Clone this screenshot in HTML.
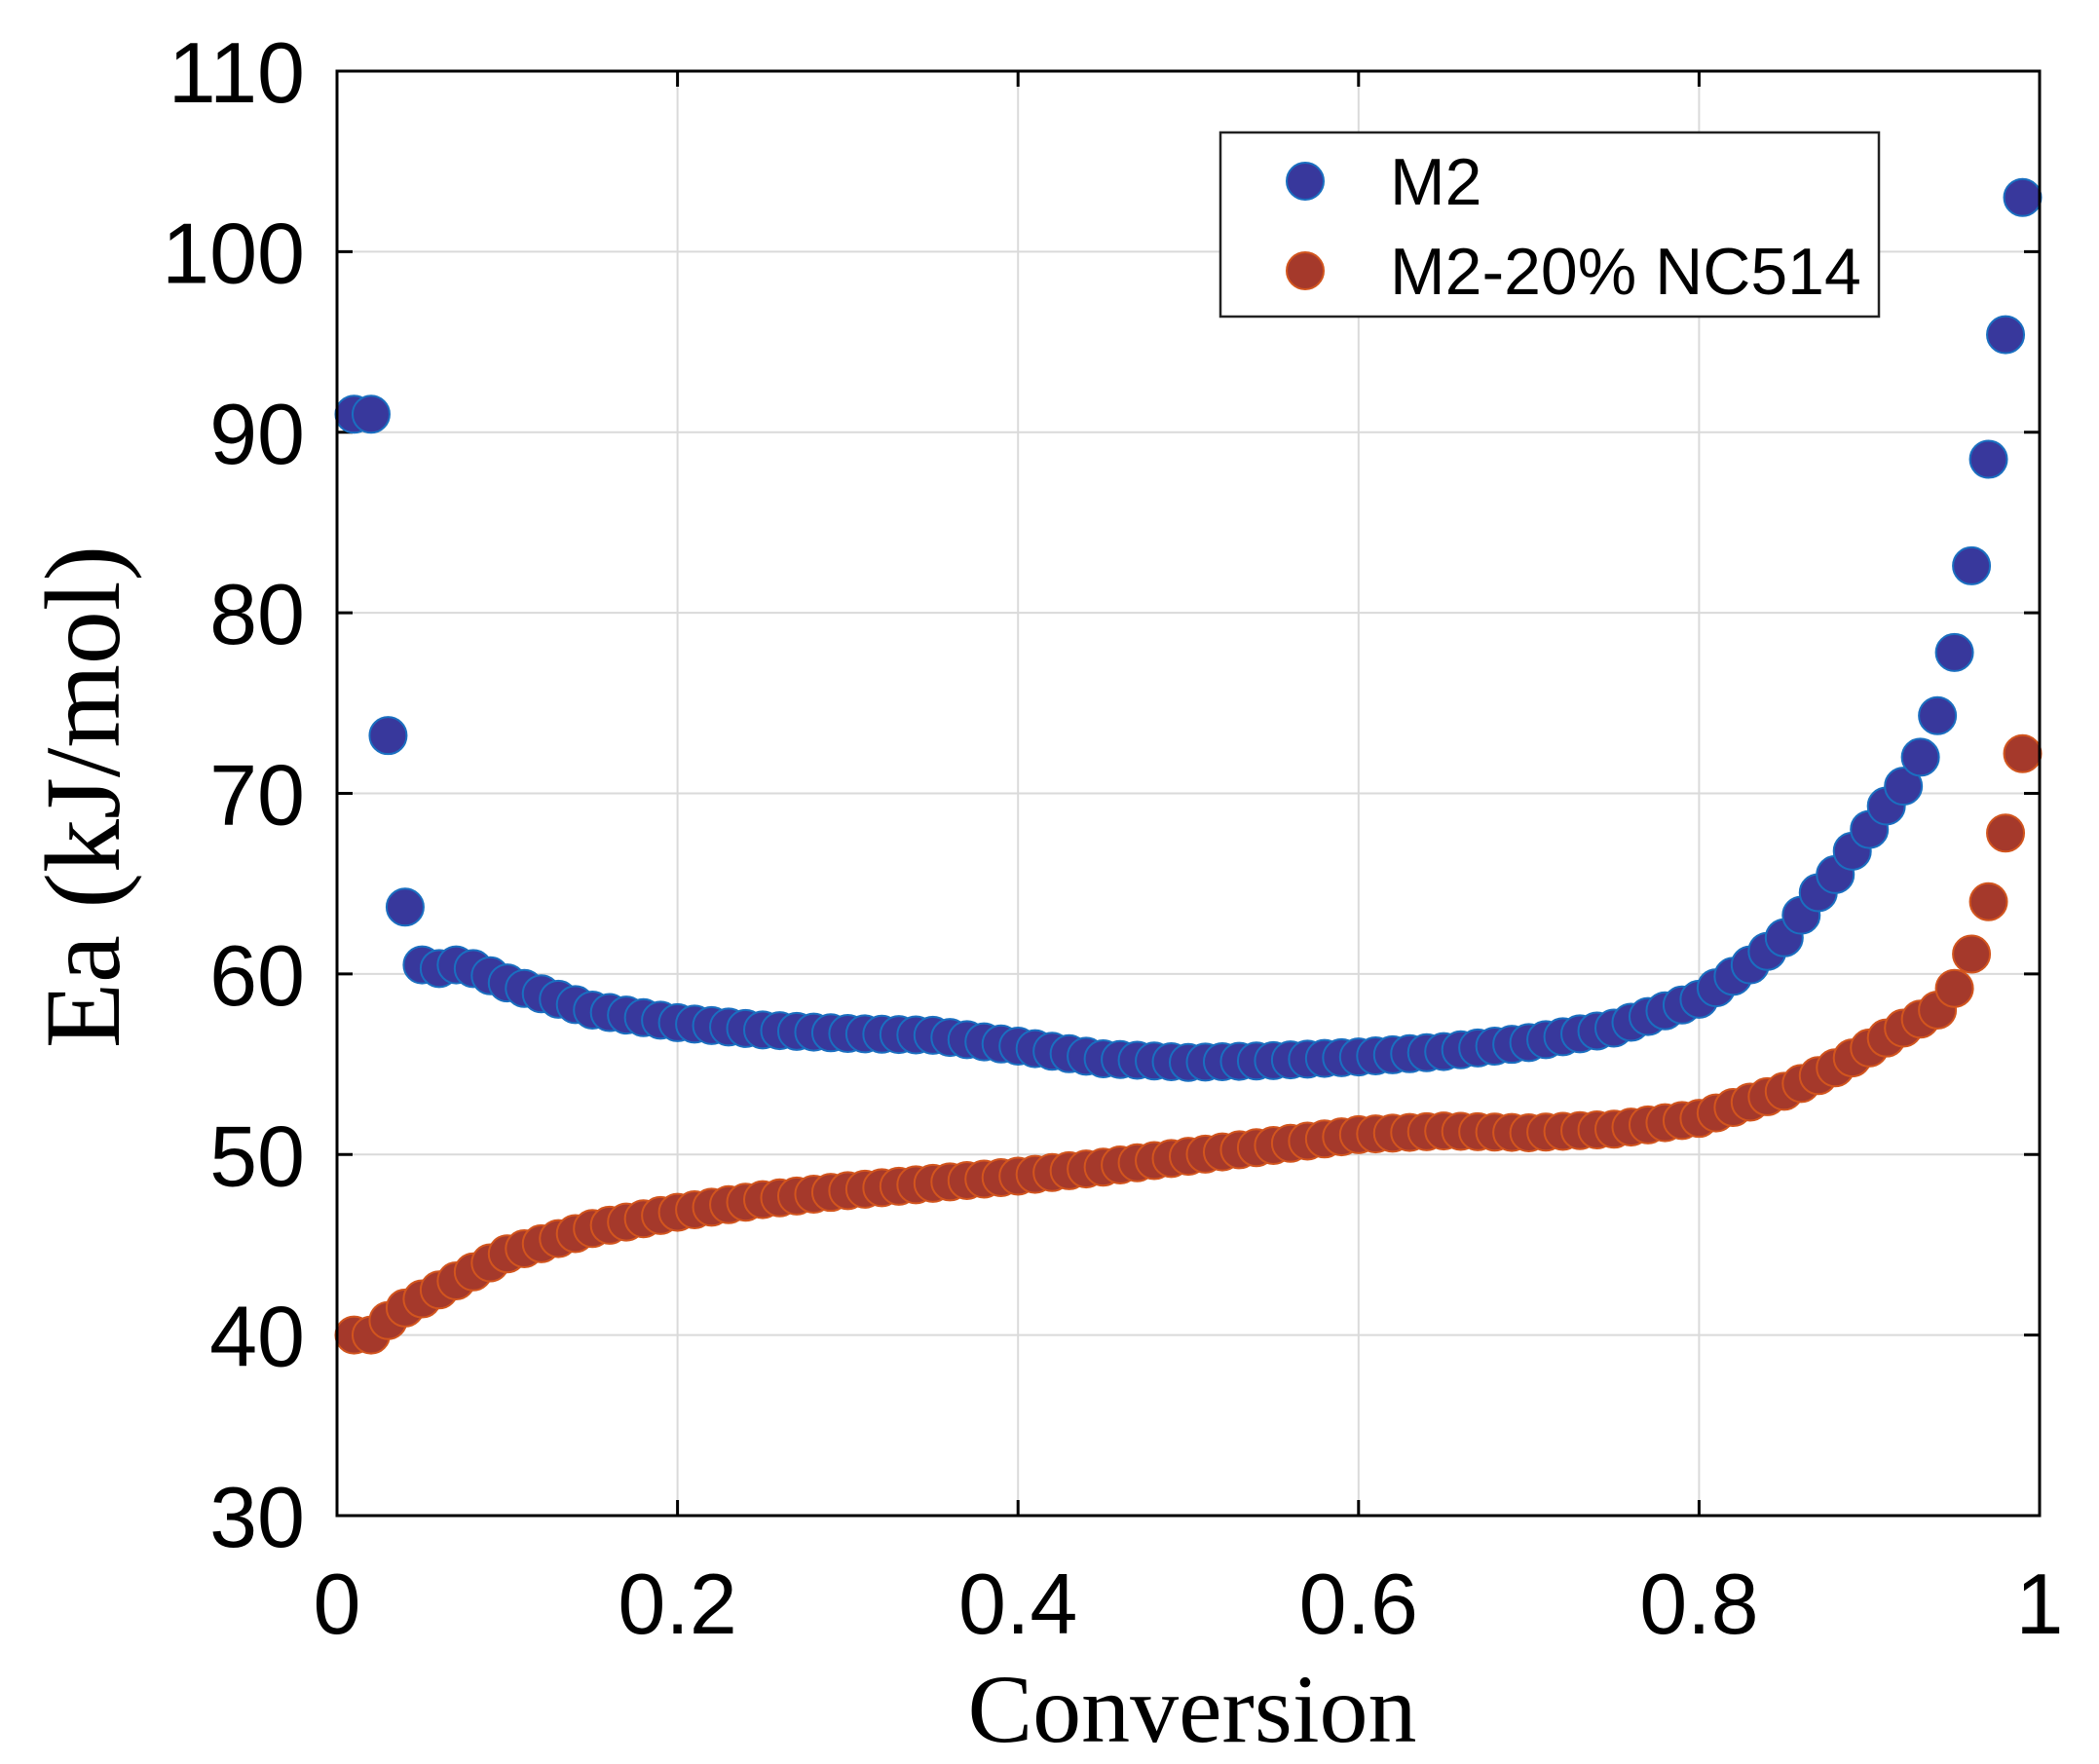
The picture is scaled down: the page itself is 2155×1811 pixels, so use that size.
<!DOCTYPE html>
<html><head><meta charset="utf-8"><style>
html,body{margin:0;padding:0;background:#fff;}
svg{display:block;}
</style></head><body>
<svg id="s" width="2155" height="1811" xmlns="http://www.w3.org/2000/svg">
<rect width="2155" height="1811" fill="#fff"/>
<g id="grid" stroke="#dadada" stroke-width="2"></g>
<g id="ticks" stroke="#000" stroke-width="3"></g>
<g id="red"></g>
<g id="blue"></g>
<rect x="346" y="73" width="1748" height="1483" fill="none" stroke="#000" stroke-width="3"/>
<g id="labels" font-family="Liberation Sans, sans-serif" font-size="88" fill="#000"></g>
<text x="1224" y="1788" font-family="Liberation Serif, serif" font-size="100" text-anchor="middle">Conversion</text>
<text transform="translate(122,818) rotate(-90)" font-family="Liberation Serif, serif" font-size="110" text-anchor="middle">Ea (kJ/mol)</text>
<rect x="1253" y="136" width="676" height="189" fill="#fff" stroke="#222" stroke-width="2.5"/>
<circle cx="1340" cy="186" r="19" fill="#38389c" stroke="#1a6fc0" stroke-width="2"/>
<circle cx="1340" cy="278" r="19" fill="#a5392b" stroke="#d2551e" stroke-width="2"/>
<text x="1427" y="210" font-family="Liberation Sans, sans-serif" font-size="68">M2</text>
<text x="1427" y="302" font-family="Liberation Sans, sans-serif" font-size="68">M2-20% NC514</text>
</svg>
<script>
var L=346,R=2094,T=73,B=1556;
function X(v){return L+v*(R-L);}
function Y(v){return B-(v-30)/80*(B-T);}
var ns="http://www.w3.org/2000/svg";
function el(p,t,a){var e=document.createElementNS(ns,t);for(var k in a)e.setAttribute(k,a[k]);p.appendChild(e);return e;}
var g=document.getElementById('grid'),tk=document.getElementById('ticks'),lb=document.getElementById('labels');
for(var i=1;i<5;i++){var x=X(i*0.2);el(g,'line',{x1:x,x2:x,y1:T,y2:B});el(tk,'line',{x1:x,x2:x,y1:B,y2:B-16});el(tk,'line',{x1:x,x2:x,y1:T,y2:T+16});}
for(var v=40;v<=100;v+=10){var y=Y(v);el(g,'line',{x1:L,x2:R,y1:y,y2:y});el(tk,'line',{x1:L,x2:L+16,y1:y,y2:y});el(tk,'line',{x1:R,x2:R-16,y1:y,y2:y});}
for(var v=30;v<=110;v+=10){var t=el(lb,'text',{x:313,y:Y(v)+32,'text-anchor':'end'});t.textContent=v;}
var xl=['0','0.2','0.4','0.6','0.8','1'];
for(var i=0;i<6;i++){var t=el(lb,'text',{x:X(i*0.2),y:1677,'text-anchor':'middle'});t.textContent=xl[i];}
var blue=[[0.01,91],[0.02,91],[0.03,73.2],[0.04,63.7],[0.05,60.5],[0.06,60.3],[0.07,60.5],[0.08,60.3],[0.1,59.5],[0.15,58],[0.2,57.3],[0.25,56.9],[0.3,56.7],[0.35,56.6],[0.4,56],[0.45,55.3],[0.5,55.1],[0.55,55.2],[0.6,55.4],[0.65,55.7],[0.7,56.2],[0.75,57],[0.8,58.6],[0.83,60.5],[0.85,62],[0.87,64.5],[0.88,65.5],[0.89,66.8],[0.9,68],[0.91,69.3],[0.92,70.4],[0.93,72],[0.94,74.3],[0.95,77.8],[0.96,82.6],[0.97,88.5],[0.98,95.4],[0.99,103]];
var red=[[0.01,40],[0.02,40],[0.03,40.8],[0.04,41.5],[0.05,42],[0.07,43],[0.1,44.5],[0.15,45.9],[0.2,46.8],[0.25,47.5],[0.3,48],[0.35,48.4],[0.4,48.8],[0.45,49.3],[0.5,49.9],[0.55,50.5],[0.6,51.1],[0.65,51.3],[0.7,51.2],[0.75,51.4],[0.8,52],[0.85,53.5],[0.88,54.8],[0.9,55.9],[0.92,57],[0.94,58],[0.95,59.2],[0.96,61.1],[0.97,64],[0.98,67.8],[0.99,72.2]];
function interp(k,x){for(var i=0;i<k.length-1;i++){if(x<=k[i+1][0]+1e-9){var a=k[i],b=k[i+1];return a[1]+(b[1]-a[1])*(x-a[0])/(b[0]-a[0]);}}return k[k.length-1][1];}
function draw(id,k,f,s){var gg=document.getElementById(id);for(var i=1;i<=99;i++){var x=i/100;el(gg,'circle',{cx:X(x),cy:Y(interp(k,x)),r:19,fill:f,stroke:s,'stroke-width':2});}}
draw('red',red,'#a5392b','#d2551e');
draw('blue',blue,'#38389c','#1a6fc0');
</script>
</body></html>
